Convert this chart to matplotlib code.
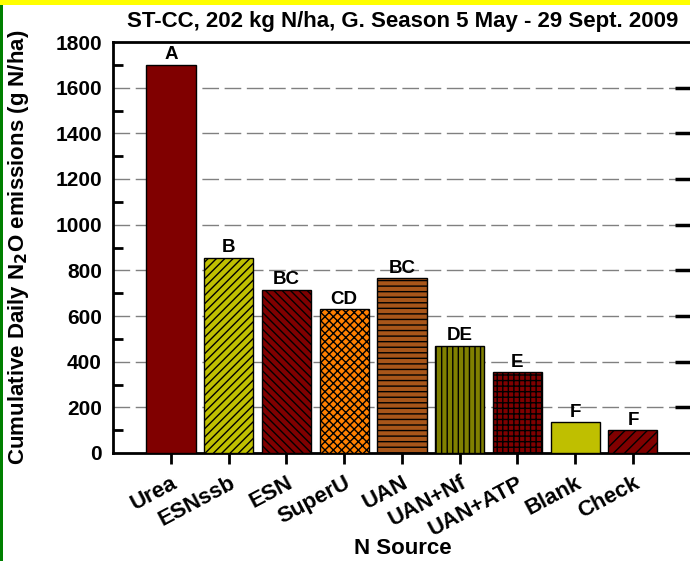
import matplotlib
matplotlib.use("Agg")
import matplotlib.pyplot as plt
from matplotlib.patches import Rectangle
from matplotlib.ticker import FixedLocator

plt.rcParams['font.family'] = ['Liberation Sans', 'DejaVu Sans']
plt.rcParams['hatch.linewidth'] = 1.0

categories = ["Urea", "ESNssb", "ESN", "SuperU", "UAN", "UAN+Nf", "UAN+ATP", "Blank", "Check"]
values = [1700, 855, 715, 630, 765, 470, 353, 136, 100]
letters = ["A", "B", "BC", "CD", "BC", "DE", "E", "F", "F"]
colors = ["#800000", "#c0c000", "#800000", "#ff8000", "#a8561a", "#808000", "#800000", "#bfbf00", "#800000"]
hatches = ["", "////", "\\\\\\\\", "xxxx", "---", "|||", "+++", "", "///"]
yticks = [0, 200, 400, 600, 800, 1000, 1200, 1400, 1600, 1800]
yminor = [100, 300, 500, 700, 900, 1100, 1300, 1500, 1700]

W, H = 690, 561
fig = plt.figure(figsize=(W / 100, H / 100), dpi=100)

# decorative frame
fig.patches.append(Rectangle((0, 1 - 4.5 / H), 1, 4.5 / H, transform=fig.transFigure,
                             facecolor="#ffff00", edgecolor="none", zorder=0))
fig.patches.append(Rectangle((0, 0), 3.5 / W, 1 - 4.5 / H, transform=fig.transFigure,
                             facecolor="#008000", edgecolor="none", zorder=0))

left, right, top, bottom = 113, 693, 42, 453
ax = fig.add_axes([left / W, 1 - bottom / H, (right - left) / W, (bottom - top) / H])

x = list(range(len(categories)))
bars = ax.bar(x, values, width=0.85, color=colors, edgecolor="black", linewidth=1.0, zorder=3)
for b, h in zip(bars, hatches):
    b.set_hatch(h)

for xi, v, lab in zip(x, values, letters):
    ax.annotate(lab, (xi, v), xytext=(0, 1), textcoords="offset points",
                ha="center", va="bottom", fontsize=13.5, fontweight="bold", zorder=4)

ax.set_xlim(-1.004, 9.04)
ax.set_ylim(0, 1800)
ax.set_yticks(yticks)
ax.yaxis.set_minor_locator(FixedLocator(yminor))

for yv in yticks[1:-1]:
    ax.axhline(yv, color="#808080", linewidth=1.0, linestyle=(0, (12, 4)), zorder=1)

ax.set_xticks(x)
ax.set_xticklabels(categories, rotation=28, ha="right", rotation_mode="anchor",
                   fontsize=16, fontweight="bold")
ax.set_yticklabels([str(t) for t in yticks], fontsize=15, fontweight="bold")

ax.tick_params(axis="x", direction="out", length=8, width=2, pad=6)
ax.tick_params(axis="y", which="major", direction="in", length=0, pad=8, left=True, right=False)
ax.tick_params(axis="y", which="minor", direction="in", length=7, width=2, left=True, right=True)

for s in ["left", "bottom", "top", "right"]:
    ax.spines[s].set_linewidth(2)

# right side major ticks (inward, longer)
ax2 = ax.twinx()
ax2.set_ylim(0, 1800)
ax2.set_yticks(yticks[1:-1])
ax2.set_yticklabels([])
ax2.tick_params(axis="y", direction="in", length=13, width=2.5)
ax2.set_yticks([], minor=True)
for s in ax2.spines.values():
    s.set_visible(False)

ax.yaxis.set_label_coords((31 - left) / (right - left), 0.51)
ax.set_ylabel("Cumulative Daily N$_\\mathbf{2}$O emissions (g N/ha)", fontsize=16, fontweight="bold")

fig.text(403 / W, 1 - 548 / H, "N Source", ha="center", va="center", fontsize=16, fontweight="bold")
fig.text(403 / W, 1 - 22 / H, "ST-CC, 202 kg N/ha, G. Season 5 May - 29 Sept. 2009",
         ha="center", va="center", fontsize=16, fontweight="bold")

fig.savefig("out.png", dpi=100)
